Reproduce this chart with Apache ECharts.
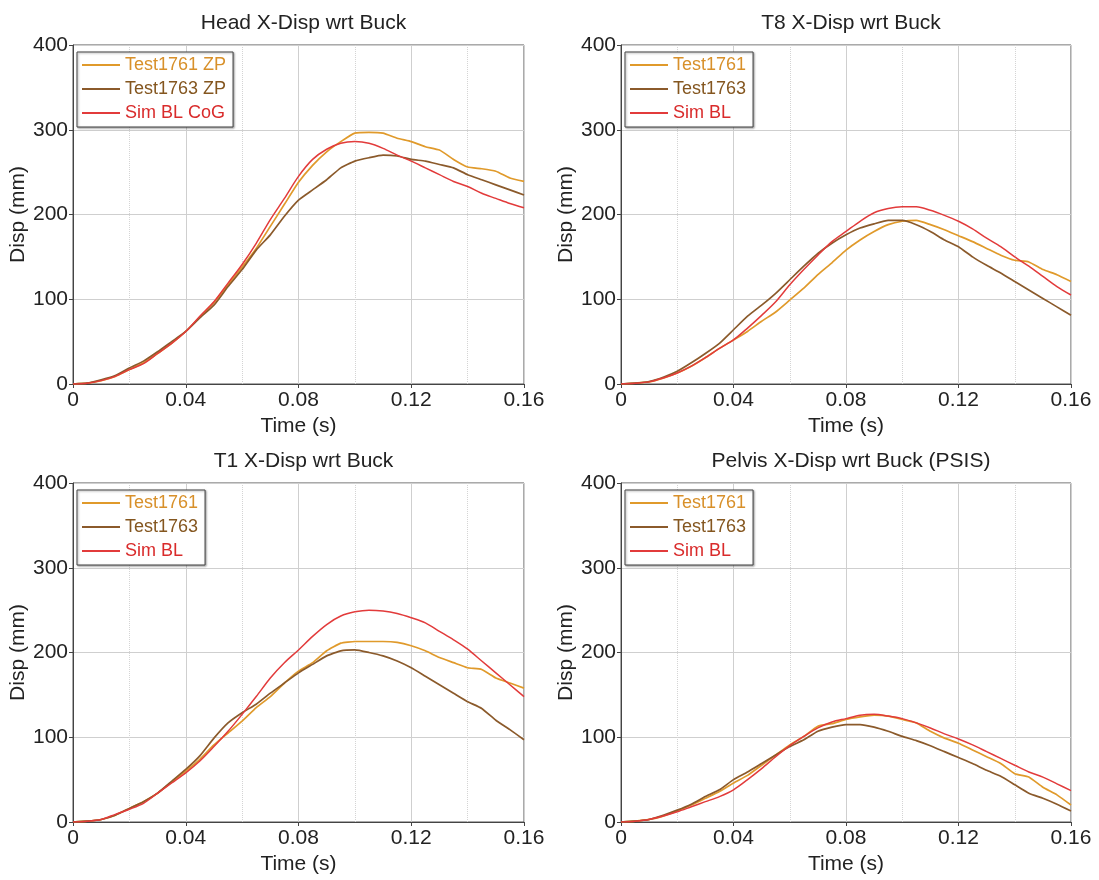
<!DOCTYPE html>
<html><head><meta charset="utf-8">
<script src="https://cdn.jsdelivr.net/npm/echarts@6/dist/echarts.min.js"></script>
<style>html,body{margin:0;padding:0;background:#fff}#c{width:1099px;height:880px}</style>
</head><body><div id="c"></div>
<script>
const time = [0,0.005,0.01,0.015,0.02,0.025,0.03,0.035,0.04,0.045,0.05,0.055,0.06,0.065,0.07,0.075,0.08,0.085,0.09,0.095,0.1,0.105,0.11,0.115,0.12,0.125,0.13,0.135,0.14,0.145,0.15,0.155,0.16];
const xTicks = [0,0.04,0.08,0.12,0.16];
const yTicks = [0,100,200,300,400];
const titles = ['Head X-Disp wrt Buck','T8 X-Disp wrt Buck','T1 X-Disp wrt Buck','Pelvis X-Disp wrt Buck (PSIS)'];
const seriesNames = [
  ['Test1761 ZP','Test1763 ZP','Sim BL CoG'],
  ['Test1761','Test1763','Sim BL'],
  ['Test1761','Test1763','Sim BL'],
  ['Test1761','Test1763','Sim BL']
];
const headT1761 = [0,1,4,9,17,25,36,48,62,79,96,117,138,160,186,212,238,258,274,286,296,297,296,290,286,280,276,265,256,254,251,243,239];
const headT1763 = [0,1,5,10,19,27,38,50,62,78,93,115,135,158,176,198,217,229,241,255,263,267,270,269,265,263,259,255,247,241,235,229,223];
const headSim   = [0,1,4,9,17,24,36,48,62,80,97,119,141,166,194,219,245,265,277,284,286,284,278,270,263,255,247,239,233,225,219,213,208];
const t8T1761 = [0,1,2.5,7,13,21,31,42,52,62,74,85,99,113,129,143,158,170,180,188,192,193,188,182,175,168,160,152,146,144,135,129,121];
const t8T1763 = [0,1,3,8,15,25,36,48,64,80,93,107,123,139,154,166,176,184,189,193,193,188,180,170,162,150,140,131,121,111,101,91,81];
const t8Sim   = [0,1,2.5,7,13,21,31,42,52,66,81,97,117,135,152,168,180,192,202,207,209,209,205,199,192,183,172,162,150,139,127,115,105];
const t1T1761 = [0,1,3,8,16,24,34,47,60,74,91,105,119,135,148,164,178,188,202,211,213,213,213,212,208,202,194,188,182,180,170,164,158];
const t1T1763 = [0,1,3,8,16,24,34,48,62,78,99,117,129,139,152,164,176,186,196,202,203,200,196,190,182,172,162,152,142,134,120,109,97];
const t1Sim   = [0,1,3,9,15,22,34,46,58,72,89,107,127,148,170,188,203,219,233,243,248,250,249,246,241,235,225,215,204,190,176,162,148];
const pelT1761 = [0,1,3,7,13,20,28,36,46,55,67,79,91,101,113,116,121,124,126,125,121,117,107,99,93,85,77,69,57,53,41,32,20];
const pelT1763 = [0,1,3,8,14,21,30,38,50,59,69,79,89,97,107,112,115,115,112,107,101,96,90,83,76,69,61,54,44,34,28,21,13];
const pelSim   = [0,1,3,7,12,18,24,30,38,50,63,77,90,101,111,118,122,126,127,125,122,117,111,104,98,91,83,75,67,59,53,45,37];

const panelData = [
  [headT1761, headT1763, headSim],
  [t8T1761, t8T1763, t8Sim],
  [t1T1761, t1T1763, t1Sim],
  [pelT1761, pelT1763, pelSim]
];
const colors = ['#E09A2B','#8B5A2B','#E23B3B'];
const textColors = ['#D8902A','#84561F','#D92B2B'];
const FONT = 'Liberation Sans, Arial, sans-serif';
const FS = 21;
const gridPos = [
  {left:73, top:45, width:451, height:339},
  {left:621, top:45, width:450, height:339},
  {left:73, top:483, width:451, height:339},
  {left:621, top:483, width:450, height:339}
];
const option = {backgroundColor:'#fff', animation:false, title:[], grid:[], xAxis:[], yAxis:[], legend:[], series:[]};
gridPos.forEach((g,i)=>{
  option.grid.push({left:g.left, top:g.top, width:g.width, height:g.height, show:true, borderColor:'#555', borderWidth:1, backgroundColor:'#fff'});
  option.title.push({text:titles[i], left:g.left+g.width/2, top:g.top-37, textAlign:'center',
    textStyle:{fontFamily:FONT, fontSize:FS, fontWeight:'normal', color:'#222'}});
  option.xAxis.push({type:'value', gridIndex:i, min:xTicks[0], max:xTicks[xTicks.length-1], interval:0.04,
    name:'Time (s)', nameLocation:'middle', nameGap:32,
    nameTextStyle:{fontFamily:FONT, fontSize:FS, color:'#222'},
    axisLine:{show:true, onZero:false, lineStyle:{color:'#444', width:1}},
    axisTick:{show:true, length:4, lineStyle:{color:'#444'}},
    axisLabel:{fontFamily:FONT, fontSize:FS, color:'#222', margin:6, formatter:v=>String(+v.toFixed(2))},
    splitLine:{show:true, lineStyle:{color:'#cfcfcf', width:1}},
    minorTick:{show:false, splitNumber:2},
    minorSplitLine:{show:true, lineStyle:{color:'#d4d4d4', type:'dotted', width:1}}
  });
  option.yAxis.push({type:'value', gridIndex:i, min:yTicks[0], max:yTicks[yTicks.length-1], interval:100,
    name:'Disp (mm)', nameLocation:'middle', nameGap:36,
    nameTextStyle:{fontFamily:FONT, fontSize:FS, color:'#222'},
    axisLine:{show:true, lineStyle:{color:'#444', width:1}},
    axisTick:{show:true, length:4, lineStyle:{color:'#444'}},
    axisLabel:{fontFamily:FONT, fontSize:FS, color:'#222', margin:5},
    splitLine:{show:true, lineStyle:{color:'#cfcfcf', width:1}}
  });
  const names = seriesNames[i];
  option.legend.push({orient:'vertical', left:g.left+4, top:g.top+7, padding:[3,7,4,5],
    icon:'rect', itemWidth:38, itemHeight:2, itemGap:4,
    borderColor:'#444', borderWidth:1, backgroundColor:'#fff',
    shadowColor:'rgba(0,0,0,0.35)', shadowBlur:2, shadowOffsetX:1, shadowOffsetY:1,
    textStyle:{fontFamily:FONT, fontSize:18, lineHeight:20},
    data: names.map((n,k)=>({name:n, textStyle:{color:textColors[k]}})),
    selectedMode:false
  });
  names.forEach((n,k)=>{
    option.series.push({type:'line', name:n, xAxisIndex:i, yAxisIndex:i, symbol:'none', smooth:k===2?0.3:0.15,
      color:colors[k], lineStyle:{color:colors[k], width:k===2?1.5:1.7},
      legendHoverLink:false,
      data: time.map((t,j)=>[t, panelData[i][k][j]])});
  });
});
const chart = echarts.init(document.getElementById('c'), null, {renderer:'canvas'});
chart.setOption(option);
</script></body></html>
